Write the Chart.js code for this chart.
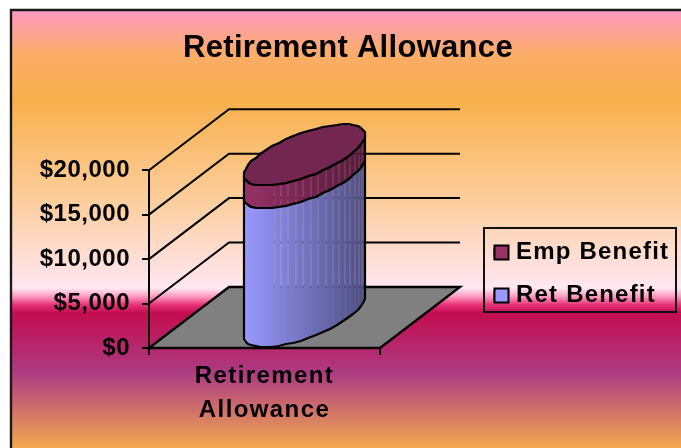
<!DOCTYPE html>
<html><head><meta charset="utf-8">
<style>html,body{margin:0;padding:0;background:#fff}canvas{display:block}</style>
<script src="https://cdn.jsdelivr.net/npm/chart.js@4"></script></head>
<body><div style="width:681px;height:448px"><canvas id="c" width="681" height="448"></canvas></div>
<script>
const categories=[["Retirement","Allowance"]];
const retBenefit=[15700];
const empBenefit=[2600];
const seriesNames=["Ret Benefit","Emp Benefit"];
const seriesColors=["#9999ff","#993366"];
const yTicks=[0,5000,10000,15000,20000];
const DX=80,DY=-61;
const FONT="'Liberation Sans',Arial,sans-serif";
const bgStops=[[0,'#ff99c4'],[0.10,'#fbac68'],[0.205,'#f8b04c'],[0.43,'#fccd9b'],[0.594,'#ffe1e1'],[0.635,'#ffe8f2'],[0.655,'#ff96be'],[0.673,'#e63278'],[0.692,'#c40c50'],[0.829,'#ac3c82'],[1,'#f4a850']];
const BOX={x:484,y:228,w:192,h:84};
function spaced(obj,name,ctx,sp){const o=obj[name];obj[name]=function(...a){ctx.save();ctx.letterSpacing=sp;o.apply(this,a);ctx.restore();};}
const plug={id:'scene',
 beforeDraw(ch){const c=ch.ctx,W=ch.width,H=ch.height;
  c.fillStyle='#fff';c.fillRect(0,0,W,H);
  const g=c.createLinearGradient(0,10,0,H);bgStops.forEach(s=>g.addColorStop(s[0],s[1]));
  c.fillStyle=g;c.fillRect(11,10,W-11,H-10);
  c.strokeStyle='#1a1a1a';c.lineWidth=2.4;c.beginPath();c.moveTo(11,H);c.lineTo(11,10);c.lineTo(W,10);c.stroke();
  if(!ch._sp){ch._sp=1;
   spaced(ch.titleBlock,'draw',c,'0.3px');spaced(ch.legend,'draw',c,'1.2px');
   spaced(ch.scales.x,'drawLabels',c,'1.4px');spaced(ch.scales.y,'drawLabels',c,'0.5px');}
 },
 afterLayout(ch){
  const t=ch.titleBlock;t.left=15;t.right=681;t.width=666;
  const l=ch.legend,pad=l.options.labels.padding;
  const mid=BOX.y+BOX.h/2+4;
  l.left=BOX.x+10-pad;l.right=l.left+230;l.width=230;l.top=mid-100;l.bottom=mid+100;l.height=200;
  l.adjustHitBoxes();
 },
 beforeDatasetsDraw(ch){const c=ch.ctx,a=ch.chartArea,y=ch.scales.y;
  c.save();
  c.strokeStyle='#000';c.lineWidth=2;
  yTicks.slice(1).forEach(v=>{const p=y.getPixelForValue(v);c.beginPath();c.moveTo(a.left,p);c.lineTo(a.left+DX,p+DY);c.lineTo(a.right+DX,p+DY);c.stroke();});
  c.beginPath();c.moveTo(a.left,a.bottom);c.lineTo(a.right,a.bottom);c.lineTo(a.right+DX,a.bottom+DY);c.lineTo(a.left+DX,a.bottom+DY);c.closePath();
  c.fillStyle='#808080';c.fill();c.lineWidth=2.4;c.stroke();
  c.restore();
 },
 beforeDatasetDraw(ch,args){
  const c=ch.ctx,el=args.meta.data[0],idx=args.index;
  const cx=el.x+DX/2,vx=DX/2,vy=DY/2,ux=el.width/2;
  const Rx=Math.hypot(ux,vx),phi=Math.atan2(vx,ux);
  const pt=(fy,th)=>{const t=th+phi;return [Math.round(cx+ux*Math.cos(t)+vx*Math.sin(t)),Math.round(fy+vy+vy*Math.sin(t))];};
  const deg=Math.PI/180,step=7.2;
  const yTop=el.y,yBot=el.base;
  const base=idx===0?[[153,153,255],[78,78,130]]:[[150,50,102],[84,26,62]];
  const grad=c.createLinearGradient(cx-Rx,0,cx+Rx,0);
  grad.addColorStop(0,`rgb(${base[0]})`);grad.addColorStop(1,`rgb(${base[1]})`);
  c.save();
  c.fillStyle=grad;
  const left=[];for(let d=180;d<240;d+=step)left.push(d);left.push(240);
  c.beginPath();
  left.forEach((d,i)=>{const p=pt(yBot,d*deg);c[i?'lineTo':'moveTo'](p[0],p[1]);});
  left.slice().reverse().forEach(d=>{const p=pt(yTop,d*deg);c.lineTo(p[0],p[1]);});
  c.closePath();c.fill();
  const gap=0.12;
  for(let d=240;d<360-0.01;d+=step){
   const p0=pt(yBot,d*deg),p1=pt(yBot,(d+step)*deg),p2=pt(yTop,(d+step)*deg),p3=pt(yTop,d*deg);
   c.beginPath();c.moveTo(p0[0]+gap,p0[1]);c.lineTo(p1[0]-gap,p1[1]);c.lineTo(p2[0]-gap,p2[1]);c.lineTo(p3[0]+gap,p3[1]);c.closePath();c.fill();
  }
  c.strokeStyle='#000';c.lineWidth=2.2;c.lineJoin='round';
  c.beginPath();let m=true;
  for(let d=180;d<=360.01;d+=step){const p=pt(yTop,d*deg);c[m?'moveTo':'lineTo'](p[0],p[1]);m=false;}
  for(let d=360;d>=180-0.01;d-=step){const p=pt(yBot,d*deg);c.lineTo(p[0],p[1]);}
  c.closePath();c.stroke();
  if(idx===ch.data.datasets.length-1){
   c.beginPath();for(let d=0;d<360;d+=step){const p=pt(yTop,d*deg);c[d?'lineTo':'moveTo'](p[0],p[1]);}
   c.closePath();c.fillStyle='#722650';c.fill();c.stroke();
  }
  c.restore();
  return false;
 },
 afterDraw(ch){const c=ch.ctx,l=ch.legend;c.save();c.strokeStyle='#111';c.lineWidth=2;
  c.strokeRect(BOX.x,BOX.y,BOX.w,BOX.h);
  l.legendItems.forEach((it,i)=>{const h=l.legendHitBoxes[i];const s=15,yc=h.top+h.height/2;
   c.fillStyle=it.fillStyle;c.fillRect(BOX.x+10.5,Math.round(yc-s/2)+.5,s-1,s-1);c.lineWidth=2;c.strokeStyle='#000';c.strokeRect(BOX.x+10.5,Math.round(yc-s/2)+.5,s-1,s-1);});
  c.restore();}
};
new Chart(document.getElementById('c'),{type:'bar',
 data:{labels:categories,datasets:[
  {label:seriesNames[0],data:retBenefit,backgroundColor:seriesColors[0],borderColor:'#000',borderWidth:1,stack:'s',barPercentage:0.393,categoryPercentage:1},
  {label:seriesNames[1],data:empBenefit,backgroundColor:seriesColors[1],borderColor:'#000',borderWidth:1,stack:'s',barPercentage:0.393,categoryPercentage:1}]},
 options:{responsive:false,animation:false,devicePixelRatio:1,
  layout:{padding:{left:0,right:301,top:0,bottom:0}},
  plugins:{
   title:{display:true,text:'Retirement Allowance',color:'#000',font:{family:FONT,size:31,weight:'bold'},padding:{top:30,bottom:103}},
   legend:{position:'chartArea',reverse:true,labels:{color:'#000',font:{family:FONT,size:24,weight:'bold'},boxWidth:10,boxHeight:10,padding:19}},
   tooltip:{enabled:false}},
  scales:{
   x:{stacked:true,offset:true,grid:{display:true,drawOnChartArea:false,drawTicks:true,tickLength:7,color:'#000',lineWidth:2},border:{color:'#000',width:2},
      ticks:{color:'#000',font:{family:FONT,size:24,weight:'bold',lineHeight:1.42},padding:4,maxRotation:0},afterFit(s){s.height=100;}},
   y:{stacked:true,min:0,max:20000,grid:{drawOnChartArea:false,tickLength:7,color:'#000',lineWidth:2},border:{color:'#000',width:2},
      ticks:{color:'#000',stepSize:5000,padding:12,font:{family:FONT,size:24,weight:'bold'},callback:v=>'$'+v.toLocaleString('en-US')},afterFit(s){s.width=149;}}
  }},
 plugins:[plug]});
</script></body></html>
